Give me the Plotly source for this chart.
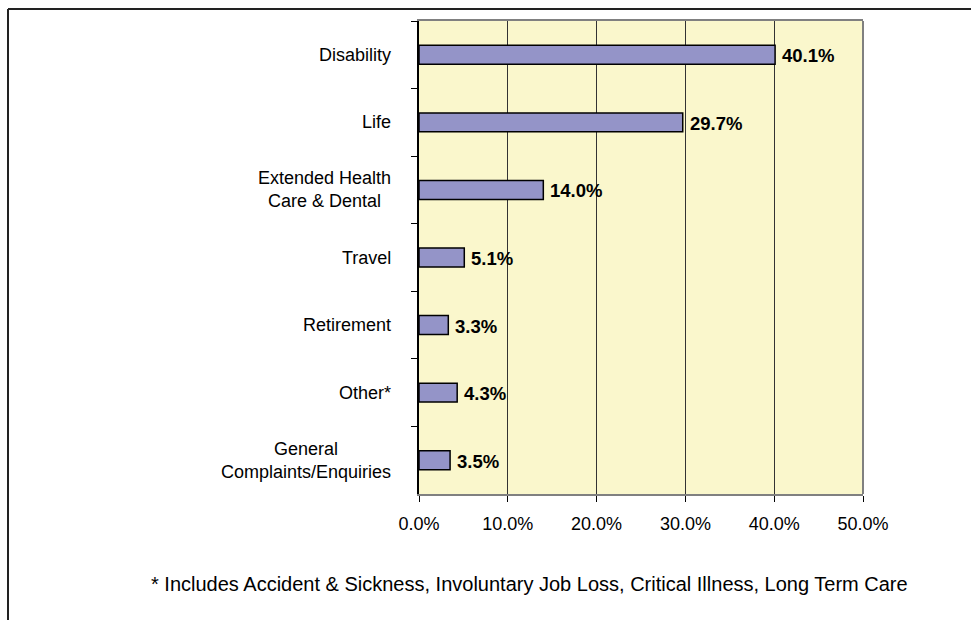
import plotly.graph_objects as go

# Complaint categories and their share of the total (percent)
categories = [
    "Disability",
    "Life",
    "Extended Health<br>Care & Dental",
    "Travel",
    "Retirement",
    "Other*",
    "General<br>Complaints/Enquiries",
]
shares = [40.1, 29.7, 14.0, 5.1, 3.3, 4.3, 3.5]
value_labels = ["40.1%", "29.7%", "14.0%", "5.1%", "3.3%", "4.3%", "3.5%"]
x_ticks = [0, 10, 20, 30, 40, 50]
x_tick_labels = ["0.0%", "10.0%", "20.0%", "30.0%", "40.0%", "50.0%"]
footnote = "* Includes Accident & Sickness, Involuntary Job Loss, Critical Illness, Long Term Care"

W, H = 971, 620
L, R, T, B = 419, 108, 21, 126
PW, PH = W - L - R, H - T - B


def px_x(px):
    return (px - L) / PW


def px_y(py):
    return (H - B - py) / PH


FONT = "Liberation Sans, Arial, sans-serif"

fig = go.Figure(
    go.Bar(
        x=shares,
        y=categories,
        orientation="h",
        width=0.28,
        marker=dict(color="#9494C8", line=dict(color="#000000", width=1.5)),
        hoverinfo="skip",
    )
)

annotations = []
for cat, val, lab in zip(categories, shares, value_labels):
    annotations.append(dict(
        x=val, y=cat, xref="x", yref="y", text="<b>%s</b>" % lab,
        showarrow=False, xanchor="left", xshift=5, yshift=-1,
        font=dict(family=FONT, size=18.5, color="#000000"),
    ))
    annotations.append(dict(
        x=px_x(393), y=cat, xref="paper", yref="y", text=cat,
        showarrow=False, xanchor="right", align="center",
        font=dict(family=FONT, size=18, color="#000000"),
    ))
annotations.append(dict(
    x=px_x(529), y=px_y(584), xref="paper", yref="paper", text=footnote,
    showarrow=False, xanchor="center", yanchor="middle",
    font=dict(family=FONT, size=20, color="#000000"),
))

shapes = [
    # right edge of the plot frame
    dict(type="line", xref="paper", yref="paper", x0=1, x1=1, y0=0, y1=1,
         line=dict(color="#808080", width=2)),
    # outer chart frame (top and left)
    dict(type="line", xref="paper", yref="paper", x0=px_x(8), x1=px_x(975),
         y0=px_y(9), y1=px_y(9), line=dict(color="#222222", width=2)),
    dict(type="line", xref="paper", yref="paper", x0=px_x(8), x1=px_x(8),
         y0=px_y(9), y1=px_y(625), line=dict(color="#222222", width=2)),
]

fig.update_layout(
    width=W, height=H,
    margin=dict(l=L, r=R, t=T, b=B, pad=0),
    paper_bgcolor="#FFFFFF",
    plot_bgcolor="#FAF7CC",
    showlegend=False,
    font=dict(family=FONT, size=18, color="#000000"),
    annotations=annotations,
    shapes=shapes,
    xaxis=dict(
        range=[0, 50], tickvals=x_ticks, ticktext=x_tick_labels,
        showgrid=True, gridcolor="#333333", gridwidth=1,
        showline=True, linecolor="#808080", linewidth=2, mirror=True,
        ticks="outside", ticklen=6, tickcolor="#000000",
        ticklabelstandoff=6,
        tickfont=dict(family=FONT, size=18, color="#000000"),
        zeroline=False, fixedrange=True,
    ),
    yaxis=dict(
        categoryorder="array", categoryarray=categories,
        autorange="reversed", showticklabels=False,
        tickson="boundaries", ticks="outside", ticklen=6, tickcolor="#000000",
        showgrid=False, showline=True, linecolor="#000000", linewidth=1.5,
        zeroline=False, fixedrange=True,
    ),
)

fig.write_html("out.html", config={"displayModeBar": False})
